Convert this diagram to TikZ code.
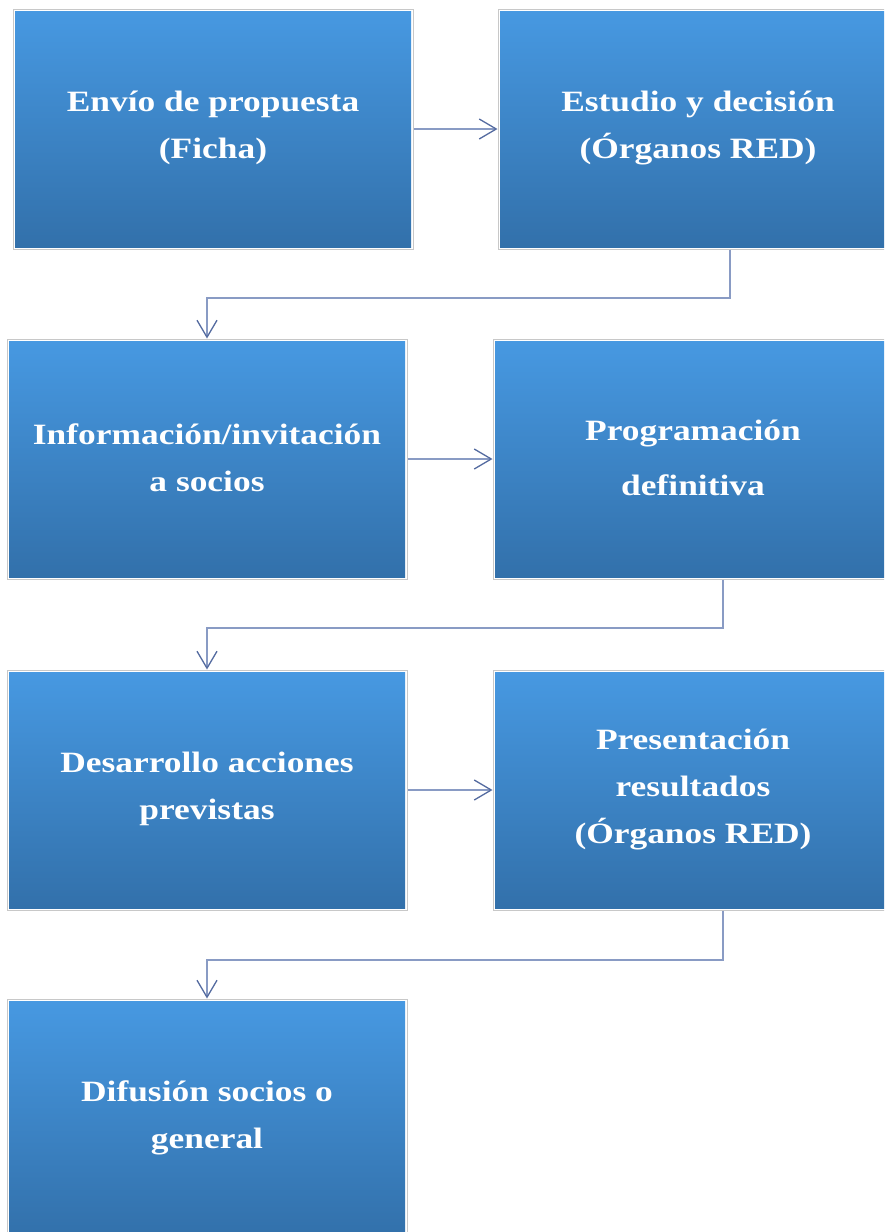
\documentclass[tikz,border=0pt]{standalone}
\usepackage{fontspec}
\newfontfamily\boxfont{Liberation Serif}[FakeStretch=1.2]
\usetikzlibrary{arrows.meta,calc}
\definecolor{topblue}{RGB}{71,153,226}
\definecolor{botblue}{RGB}{50,112,170}
\definecolor{framegray}{RGB}{200,200,200}
\definecolor{connline}{RGB}{137,155,196}
\definecolor{connhead}{RGB}{84,107,160}
\tikzset{
  stepbox/.style={draw=framegray, line width=1pt, minimum width=400pt, minimum height=240pt, inner sep=0pt,
    path picture={\shade[top color=topblue, bottom color=botblue]
      ([shift={(2pt,-2pt)}]path picture bounding box.north west) rectangle
      ([shift={(-2pt,2pt)}]path picture bounding box.south east);}},
  boxtext/.style={text=white, align=center, font=\boxfont\bfseries\fontsize{29.5pt}{47pt}\selectfont, yshift=1pt},
  conn/.style={draw=connline, line width=2pt,
    -{Straight Barb[length=17pt,width=20pt,line width=1.3pt,color=connhead]}}
}
\begin{document}
\begin{tikzpicture}[x=1pt,y=-1pt]
\useasboundingbox (0,0) rectangle (884,1232);
\clip (0,0) rectangle (884,1232);
\fill[white] (0,0) rectangle (884,1232);
% boxes
\node[stepbox] (b1) at (213,129) {};
\node[stepbox] (b2) at (698,129) {};
\node[stepbox] (b3) at (207,459) {};
\node[stepbox] (b4) at (693,459) {};
\node[stepbox] (b5) at (207,790) {};
\node[stepbox] (b6) at (693,790) {};
\node[stepbox] (b7) at (207,1119) {};
% texts
\node[boxtext] (t1) at (b1.center) {Envío de propuesta\\(Ficha)};
\node[boxtext] (t2) at (b2.center) {Estudio y decisión\\(Órganos RED)};
\node[boxtext] (t3) at (b3.center) {Información/invitación\\a socios};
\node[boxtext] (t4) at (b4.center) {Programación\\[8pt]definitiva};
\node[boxtext] (t5) at (b5.center) {Desarrollo acciones\\previstas};
\node[boxtext] (t6) at (b6.center) {Presentación\\resultados\\(Órganos RED)};
\node[boxtext] (t7) at (b7.center) {Difusión socios o\\general};
% bend coordinates
\coordinate (c1) at (207,298);
\coordinate (c2) at (207,628);
\coordinate (c3) at (207,960);
% connectors
\draw[conn] (b1.east) -- (b2.west);
\draw[conn] (b3.east) -- (b4.west);
\draw[conn] (b5.east) -- (b6.west);
\draw[conn] ([xshift=232pt]b2.south west) |- (c1) -- (b3.north);
\draw[conn] ([xshift=230pt]b4.south west) |- (c2) -- (b5.north);
\draw[conn] ([xshift=230pt]b6.south west) |- (c3) -- (b7.north);
\end{tikzpicture}
\end{document}
